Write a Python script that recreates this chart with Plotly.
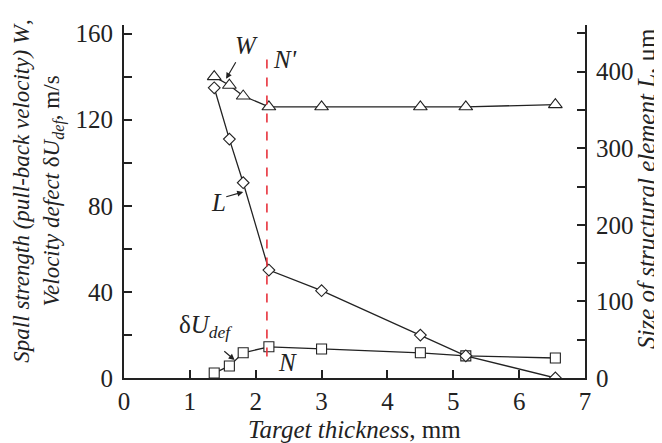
import plotly.graph_objects as go

# Data
thickness = [1.37, 1.6, 1.81, 2.2, 3.0, 4.5, 5.19, 6.55]
W_spall = [140, 136, 131, 126, 126, 126, 126, 127]          # m/s, left axis
L_size = [379, 312, 255, 141, 114, 56, 29, 0]              # um, right axis
dU_def = [2.3, 5.6, 11.7, 14.5, 13.5, 11.7, 10.3, 9.3]     # m/s, left axis
N_x = 2.17
N_span = [10, 148]

FONT = "Liberation Serif, Times New Roman, Times, serif"
INK = "#222222"

fig = go.Figure()

fig.add_trace(go.Scatter(
    x=thickness, y=W_spall, mode="lines+markers", name="W",
    line=dict(color=INK, width=1.3),
    marker=dict(symbol="triangle-up", size=12, color="white", line=dict(color=INK, width=1.1)),
))
fig.add_trace(go.Scatter(
    x=thickness, y=L_size, mode="lines+markers", name="L", yaxis="y2",
    line=dict(color=INK, width=1.3),
    marker=dict(symbol="diamond", size=9, color="white", line=dict(color=INK, width=1.1)),
))
fig.add_trace(go.Scatter(
    x=thickness, y=dU_def, mode="lines+markers", name="dU",
    line=dict(color=INK, width=1.3),
    marker=dict(symbol="square", size=10, color="white", line=dict(color=INK, width=1.1)),
))

fig.add_shape(type="line", x0=N_x, x1=N_x, y0=N_span[0], y1=N_span[1],
              xref="x", yref="y", line=dict(color="#e8323c", width=1.6, dash="dash"))

tickfont = dict(family=FONT, size=25, color=INK)

# the page body has an 8px margin, so the figure is drawn 8px in from the corner
fig.update_layout(
    width=654, height=435,
    margin=dict(l=116, r=77, t=17, b=65),
    paper_bgcolor="white", plot_bgcolor="white",
    showlegend=False,
    font=dict(family=FONT, color=INK),
    xaxis=dict(
        range=[0, 7], tickvals=[0, 1, 2, 3, 4, 5, 6, 7],
        ticks="inside", ticklen=8, tickwidth=1.5, tickcolor=INK,
        showline=True, linewidth=2, linecolor=INK,
        showgrid=False, zeroline=False, tickfont=tickfont,
    ),
    yaxis=dict(
        range=[0, 164], tickvals=[0, 40, 80, 120, 160],
        ticks="inside", ticklen=8, tickwidth=1.5, tickcolor=INK,
        minor=dict(tickvals=[20, 60, 100, 140], ticks="inside", ticklen=8, tickwidth=1.5, tickcolor=INK),
        showline=True, linewidth=2, linecolor=INK, ticklabelstandoff=4,
        showgrid=False, zeroline=False, tickfont=tickfont,
    ),
    yaxis2=dict(
        range=[0, 461], overlaying="y", side="right",
        tickvals=[0, 100, 200, 300, 400],
        ticks="inside", ticklen=8, tickwidth=1.5, tickcolor=INK,
        minor=dict(tickvals=[50, 150, 250, 350, 450], ticks="inside", ticklen=8, tickwidth=1.5, tickcolor=INK),
        showline=True, linewidth=2, linecolor=INK, ticklabelstandoff=4,
        showgrid=False, zeroline=False, tickfont=tickfont,
    ),
)

tf = dict(family=FONT, size=25, color=INK)
tfl = dict(family=FONT, size=23, color=INK)
ann = []
# axis titles
ann.append(dict(text="<i>Target thickness</i>, mm", xref="paper", yref="paper",
                x=0.499, y=-0.147, xanchor="center", yanchor="middle", showarrow=False, font=tf))
ann.append(dict(text="<i>Spall strength (pull-back velocity) W</i>,<br><i>Velocity defect </i>δ<i>U<sub>def</sub></i>, m/s",
                xref="paper", yref="paper", x=-0.185, y=0.53, xanchor="center", yanchor="middle",
                textangle=-90, showarrow=False, font=tfl))
ann.append(dict(text="<i>Size of structural element L</i>, μm", xref="paper", yref="paper",
                x=1.132, y=0.538, xanchor="center", yanchor="middle", textangle=-90,
                showarrow=False, font=tf))
# labels in plot
lf = dict(family=FONT, size=25, color=INK)
ann.append(dict(text="<i>W</i>", x=1.86, y=154.7, xref="x", yref="y", showarrow=False, font=lf))
ann.append(dict(text="", x=1.55, y=139, xref="x", yref="y", ax=1.71, ay=147.4,
                axref="x", ayref="y", showarrow=True, arrowhead=2, arrowsize=1, arrowwidth=1.2, arrowcolor=INK))
ann.append(dict(text="<i>N'</i>", x=2.45, y=148, xref="x", yref="y", showarrow=False, font=lf))
ann.append(dict(text="<i>L</i>", x=1.43, y=81.7, xref="x", yref="y", showarrow=False, font=lf))
ann.append(dict(text="", x=1.81, y=86.4, xref="x", yref="y", ax=1.53, ay=84,
                axref="x", ayref="y", showarrow=True, arrowhead=2, arrowsize=1, arrowwidth=1.2, arrowcolor=INK))
ann.append(dict(text="δ<i>U<sub>def</sub></i>", x=1.23, y=24, xref="x", yref="y", showarrow=False, font=lf))
ann.append(dict(text="", x=1.68, y=8.4, xref="x", yref="y", ax=1.50, ay=13,
                axref="x", ayref="y", showarrow=True, arrowhead=2, arrowsize=1, arrowwidth=1.2, arrowcolor=INK))
ann.append(dict(text="<i>N</i>", x=2.49, y=7.4, xref="x", yref="y", showarrow=False, font=lf))
fig.update_layout(annotations=ann)

fig.write_html("out.html")
